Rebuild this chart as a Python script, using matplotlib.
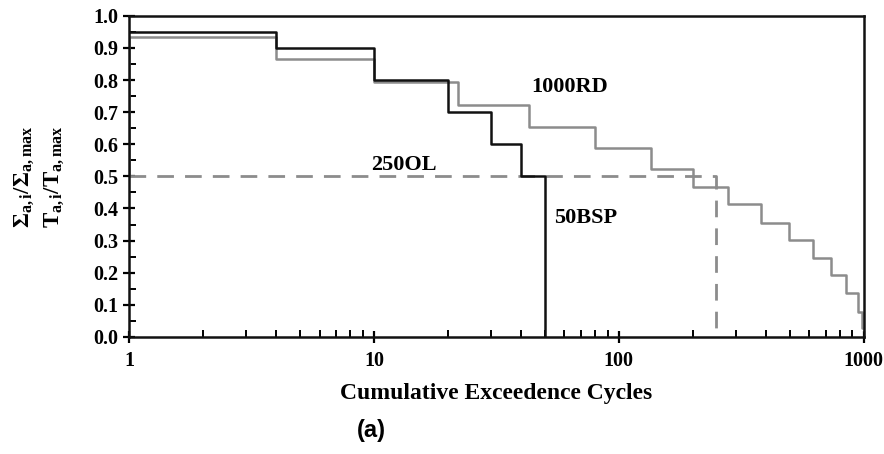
import matplotlib
matplotlib.use('Agg')
import matplotlib.pyplot as plt
from matplotlib.ticker import MultipleLocator, LogLocator, NullFormatter, FixedLocator, FixedFormatter

plt.rcParams['font.family'] = 'Liberation Serif'
plt.rcParams['font.weight'] = 'bold'
plt.rcParams['mathtext.fontset'] = 'custom'
plt.rcParams['mathtext.rm'] = 'Liberation Serif:bold'
plt.rcParams['mathtext.it'] = 'Liberation Serif:bold'
plt.rcParams['mathtext.bf'] = 'Liberation Serif:bold'

# 50BSP loading block (black steps)
bsp_x = [1, 4, 10, 20, 30, 40, 50, 50]
bsp_y = [0.95, 0.90, 0.80, 0.70, 0.60, 0.50, 0.50, 0.0]

# 1000RD loading block (grey steps)
rd_x = [1, 1, 4, 10, 22, 43, 80, 136, 200, 280, 380, 495, 620, 735, 850, 945, 985, 1000]
rd_y = [0.50, 0.933, 0.865, 0.795, 0.723, 0.655, 0.588, 0.523, 0.467, 0.414,
        0.356, 0.302, 0.246, 0.193, 0.137, 0.078, 0.028, 0.02]

# 250OL (dashed)
ol_x = [1, 250, 250]
ol_y = [0.50, 0.50, 0.0]

fig = plt.figure(figsize=(8.84, 4.54), dpi=100)
ax = fig.add_axes([0.146, 0.258, 0.831, 0.707])

ax.plot(ol_x, ol_y, color='#8c8c8c', lw=2.0, ls=(0, (6, 4)))
ax.step(rd_x, rd_y, where='post', color='#8c8c8c', lw=1.8)
ax.step(bsp_x, bsp_y, where='post', color='#111111', lw=1.8)

ax.set_xscale('log')
ax.set_xlim(1, 1000)
ax.set_ylim(0, 1.0)

ax.xaxis.set_major_locator(FixedLocator([1, 10, 100, 1000]))
ax.xaxis.set_major_formatter(FixedFormatter(['1', '10', '100', '1000']))
ax.xaxis.set_minor_locator(LogLocator(base=10, subs=range(2, 10)))
ax.xaxis.set_minor_formatter(NullFormatter())
ax.yaxis.set_major_locator(MultipleLocator(0.1))
ax.yaxis.set_minor_locator(MultipleLocator(0.05))
ax.yaxis.set_major_formatter(plt.FuncFormatter(lambda v, p: f'{v:.1f}'))

ax.tick_params(which='major', direction='inout', length=9, width=1.6, labelsize=14.5, pad=3)
ax.tick_params(which='minor', direction='in', length=5, width=1.4)
ax.tick_params(axis='x', which='major', pad=6)
for s in ax.spines.values():
    s.set_linewidth(1.8)
    s.set_color('#111111')

ax.set_xlabel('Cumulative Exceedence Cycles', fontsize=17, fontweight='bold', labelpad=8)
ax.set_ylabel(r'$\Sigma_{a,i}/\Sigma_{a,max}$' + '\n' + r'$T_{a,i}/T_{a,max}$',
              fontsize=16.5, labelpad=20, linespacing=1.4)

ax.text(63, 0.78, '1000RD', fontsize=16, fontweight='bold', ha='center', va='center')
ax.text(13.3, 0.536, '250OL', fontsize=16, fontweight='bold', ha='center', va='center')
ax.text(73, 0.37, '50BSP', fontsize=16, fontweight='bold', ha='center', va='center')

fig.text(0.42, 0.052, '(a)', fontsize=17, fontweight='bold', family='Liberation Sans',
         ha='center', va='center')

fig.savefig('out.png', dpi=100)
